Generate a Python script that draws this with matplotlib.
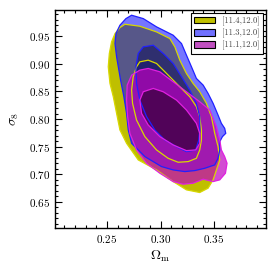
import matplotlib
matplotlib.use("Agg")
import matplotlib.pyplot as plt
import matplotlib.patches as mpatches
from matplotlib.ticker import MultipleLocator

plt.rcParams['font.family'] = ['cmr10', 'DejaVu Serif']
plt.rcParams['mathtext.fontset'] = 'cm'
plt.rcParams['axes.formatter.use_mathtext'] = True

# contour outlines (Omega_m, sigma_8)
labels = ['[11.4,12.0]', '[11.3,12.0]', '[11.1,12.0]']

yel_out_om = [0.2668, 0.2807, 0.2963, 0.3087, 0.3134, 0.3180, 0.3242, 0.3304, 0.3366, 0.3429,
              0.3475, 0.3506, 0.3537, 0.3553, 0.3522, 0.3491, 0.3444, 0.3366, 0.3242, 0.3118,
              0.2963, 0.2792, 0.2683, 0.2621, 0.2590, 0.2559, 0.2528, 0.2512, 0.2522, 0.2543,
              0.2575, 0.2621]
yel_out_s8 = [0.9717, 0.9681, 0.9578, 0.9458, 0.9307, 0.9066, 0.8825, 0.8645, 0.8494, 0.8283,
              0.8042, 0.7741, 0.7500, 0.7259, 0.7078, 0.6898, 0.6747, 0.6669, 0.6717, 0.6867,
              0.7078, 0.7259, 0.7560, 0.7801, 0.8102, 0.8404, 0.8645, 0.8946, 0.9187, 0.9398,
              0.9548, 0.9657]
yel_in_om = [0.2807, 0.2885, 0.2963, 0.3025, 0.3087, 0.3180, 0.3273, 0.3335, 0.3366, 0.3382,
             0.3382, 0.3366, 0.3335, 0.3258, 0.3165, 0.3071, 0.2963, 0.2854, 0.2776, 0.2739,
             0.2730, 0.2745, 0.2776]
yel_in_s8 = [0.9036, 0.9066, 0.9006, 0.8886, 0.8765, 0.8584, 0.8404, 0.8223, 0.8042, 0.7801,
             0.7620, 0.7440, 0.7289, 0.7229, 0.7217, 0.7289, 0.7440, 0.7681, 0.7982, 0.8283,
             0.8524, 0.8765, 0.8946]

blu_out_om = [0.2730, 0.2839, 0.2963, 0.3118, 0.3196, 0.3242, 0.3289, 0.3335, 0.3398, 0.3444,
              0.3491, 0.3537, 0.3568, 0.3599, 0.3609, 0.3578, 0.3553, 0.3553, 0.3537, 0.3506,
              0.3413, 0.3320, 0.3227, 0.3118, 0.3009, 0.2854, 0.2730, 0.2699, 0.2683, 0.2658,
              0.2627, 0.2590, 0.2575, 0.2584, 0.2621, 0.2677]
blu_out_s8 = [0.9880, 0.9819, 0.9669, 0.9518, 0.9367, 0.9157, 0.8946, 0.8735, 0.8614, 0.8464,
              0.8283, 0.8072, 0.7922, 0.7831, 0.7741, 0.7681, 0.7590, 0.7440, 0.7289, 0.7169,
              0.7108, 0.7066, 0.7048, 0.7078, 0.7139, 0.7319, 0.7560, 0.7801, 0.8102, 0.8404,
              0.8705, 0.9127, 0.9367, 0.9548, 0.9699, 0.9819]
blu_in_om = [0.2839, 0.2932, 0.3025, 0.3118, 0.3196, 0.3273, 0.3335, 0.3366, 0.3366, 0.3357,
             0.3329, 0.3242, 0.3149, 0.3040, 0.2947, 0.2870, 0.2807, 0.2776, 0.2770, 0.2792]
blu_in_s8 = [0.9307, 0.9337, 0.9187, 0.9006, 0.8765, 0.8524, 0.8283, 0.8042, 0.7801, 0.7620,
             0.7440, 0.7410, 0.7500, 0.7620, 0.7801, 0.8042, 0.8343, 0.8645, 0.8946, 0.9187]

mag_out_om = [0.2730, 0.2807, 0.2885, 0.2994, 0.3118, 0.3242, 0.3366, 0.3460, 0.3522, 0.3553,
              0.3568, 0.3599, 0.3621, 0.3606, 0.3553, 0.3491, 0.3398, 0.3304, 0.3211, 0.3118,
              0.2994, 0.2870, 0.2776, 0.2714, 0.2693, 0.2683, 0.2689]
mag_out_s8 = [0.8795, 0.8886, 0.8916, 0.8855, 0.8675, 0.8494, 0.8313, 0.8163, 0.7861, 0.7620,
              0.7440, 0.7319, 0.7199, 0.7018, 0.6898, 0.6867, 0.6910, 0.6837, 0.6819, 0.6867,
              0.7018, 0.7199, 0.7440, 0.7741, 0.8042, 0.8343, 0.8614]
mag_in_om = [0.2839, 0.2932, 0.3025, 0.3149, 0.3242, 0.3335, 0.3366, 0.3366, 0.3329, 0.3242,
             0.3118, 0.2994, 0.2885, 0.2823, 0.2807]
mag_in_s8 = [0.8494, 0.8554, 0.8494, 0.8343, 0.8163, 0.7922, 0.7741, 0.7560, 0.7440, 0.7428,
             0.7530, 0.7681, 0.7892, 0.8102, 0.8343]

fig = plt.figure(figsize=(2.77, 2.73), dpi=100)
ax = fig.add_axes([0.199, 0.165, 0.761, 0.798])

sets = [
    (yel_out_om, yel_out_s8, yel_in_om, yel_in_s8, '#bfbf00', 1.0, '#8a8a00', 1.0, '#d8d800'),
    (blu_out_om, blu_out_s8, blu_in_om, blu_in_s8, '#0000ff', 0.54, '#000050', 0.45, '#2020ff'),
    (mag_out_om, mag_out_s8, mag_in_om, mag_in_s8, '#c000c0', 0.7, '#300030', 0.65, '#e020e0'),
]

for om1, s81, om2, s82, c1, a1, c2, a2, lc in sets:
    ax.fill(om1, s81, color=c1, alpha=a1, lw=0, zorder=1)
    ax.fill(om2, s82, color=c2, alpha=a2, lw=0, zorder=1)
for om1, s81, om2, s82, c1, a1, c2, a2, lc in sets:
    ax.fill(om1, s81, fill=False, edgecolor=lc, lw=0.9, zorder=2)
    ax.fill(om2, s82, fill=False, edgecolor=lc, lw=0.9, zorder=2)

ax.set_xlim(0.2016, 0.3984)
ax.set_ylim(0.6027, 0.9973)
ax.xaxis.set_major_locator(MultipleLocator(0.05))
ax.xaxis.set_minor_locator(MultipleLocator(0.01))
ax.yaxis.set_major_locator(MultipleLocator(0.05))
ax.yaxis.set_minor_locator(MultipleLocator(0.01))
ax.tick_params(which='both', direction='in', top=True, right=True, labelsize=8, width=0.8)
ax.tick_params(which='major', length=5)
ax.tick_params(which='minor', length=2.5)
for s in ax.spines.values():
    s.set_linewidth(1.0)

ax.set_xlabel(r'$\Omega_{\rm m}$', fontsize=10, labelpad=3)
ax.set_ylabel(r'$\sigma_8$', fontsize=10, labelpad=6)

handles = [mpatches.Patch(facecolor='#c0c000', edgecolor='black', lw=0.8),
           mpatches.Patch(facecolor='#7070ff', edgecolor='black', lw=0.8),
           mpatches.Patch(facecolor='#c050c0', edgecolor='black', lw=0.8)]
leg = ax.legend(handles, labels, loc='upper right', fontsize=6.3, fancybox=False,
                framealpha=1, edgecolor='black', borderaxespad=0.3,
                handlelength=2.4, handleheight=0.8, labelspacing=0.35, borderpad=0.4)
leg.get_frame().set_linewidth(0.8)
for t in leg.get_texts():
    t.set_color('#444444')

fig.savefig('out.png', dpi=100)
